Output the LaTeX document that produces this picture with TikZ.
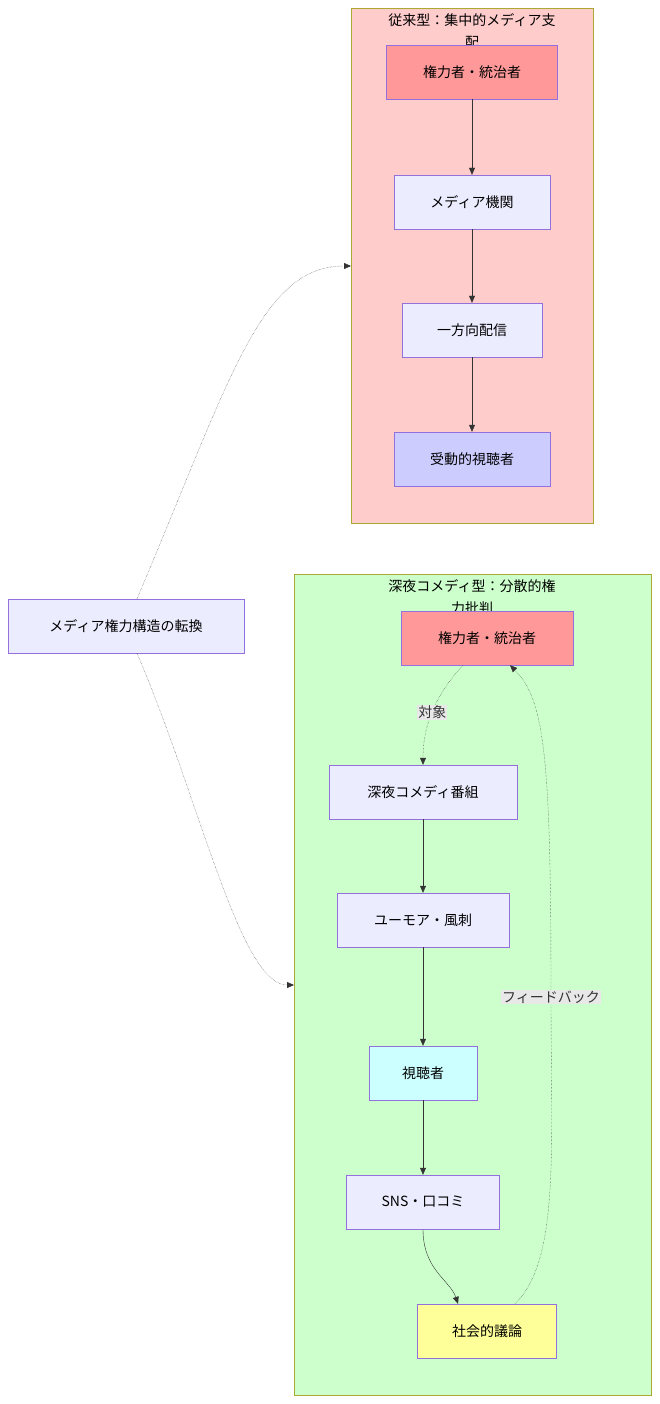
\documentclass[tikz,border=0pt]{standalone}
\usepackage{fontspec}
\setmainfont{Noto Sans CJK JP}
\usetikzlibrary{arrows.meta, positioning}
\definecolor{boxfill}{HTML}{ECECFF}
\definecolor{boxline}{HTML}{9370DB}
\definecolor{powerfill}{HTML}{FF9999}
\definecolor{passfill}{HTML}{CCCCFF}
\definecolor{viewfill}{HTML}{CCFFFF}
\definecolor{talkfill}{HTML}{FFFF99}
\definecolor{oldfill}{HTML}{FFCCCC}
\definecolor{newfill}{HTML}{CCFFCC}
\definecolor{clusline}{HTML}{AAAA33}
\definecolor{edgec}{HTML}{333333}
\definecolor{lblfill}{HTML}{E8E8E8}

\begin{document}
\begin{tikzpicture}[x=1pt, y=-1pt,
  font=\fontsize{14}{16}\selectfont,
  box/.style={draw=boxline, fill=boxfill, minimum height=54pt, inner sep=0pt},
  cluster/.style={draw=clusline},
  link/.style={draw=edgec, -{Triangle[length=7pt,width=6pt]}},
  dashlink/.style={link, densely dotted},
  lbl/.style={fill=lblfill, inner sep=1pt, text=edgec}]

  \useasboundingbox (0,0) rectangle (659,1404);

  % clusters
  \draw[cluster, fill=oldfill] (351,8) rectangle (593,523);
  \draw[cluster, fill=newfill] (294,574) rectangle (651,1395);
  \node (t1) at (472,20) {従来型：集中的メディア支};
  \node (t1b) at (472,42) {配};
  \node (t2) at (472,586) {深夜コメディ型：分散的権};
  \node (t2b) at (472,608) {力批判};
  \coordinate (c1) at (351,266);
  \coordinate (c2) at (294,985);

  % traditional
  \node[box, fill=powerfill, minimum width=171pt] (a1) at (472,72) {権力者・統治者};
  \node[box, minimum width=156pt] (a2) at (472,202) {メディア機関};
  \node[box, minimum width=140pt] (a3) at (472,330) {一方向配信};
  \node[box, fill=passfill, minimum width=156pt] (a4) at (472,459) {受動的視聴者};

  % late-night comedy
  \node[box, fill=powerfill, minimum width=172pt] (b1) at (487,638) {権力者・統治者};
  \node[box, minimum width=188pt] (b2) at (423,792) {深夜コメディ番組};
  \node[box, minimum width=172pt] (b3) at (423,920) {ユーモア・風刺};
  \node[box, fill=viewfill, minimum width=108pt] (b4) at (423,1073) {視聴者};
  \node[box, minimum width=153pt] (b5) at (423,1202) {SNS・口コミ};
  \node[box, fill=talkfill, minimum width=139pt] (b6) at (487,1331) {社会的議論};

  \node[box, minimum width=236pt] (m) at (126,626) {メディア権力構造の転換};

  \draw[link] (a1) -- (a2);
  \draw[link] (a2) -- (a3);
  \draw[link] (a3) -- (a4);
  \draw[link] (b2) -- (b3);
  \draw[link] (b3) -- (b4);
  \draw[link] (b4) -- (b5);
  \draw[link] (b5.south) .. controls (423,1270) and (450,1280) .. ([xshift=-29pt]b6.north);
  \draw[dashlink] ([xshift=-24pt]b1.south) .. controls (440,690) and (423,720) .. (b2.north)
    node[lbl, pos=0.55] (l1) {対象};
  \draw[dashlink] ([xshift=28pt]b6.north) .. controls (560,1260) and (551,1150) .. (551,997)
    node[lbl] (l2) {フィードバック} .. controls (551,760) and (545,700) .. ([xshift=23pt]b1.south);
  \draw[dashlink] ([xshift=11pt]m.north) .. controls (230,380) and (260,266) .. (c1);
  \draw[dashlink] ([xshift=11pt]m.south) .. controls (200,800) and (240,985) .. (c2);
\end{tikzpicture}
\end{document}
